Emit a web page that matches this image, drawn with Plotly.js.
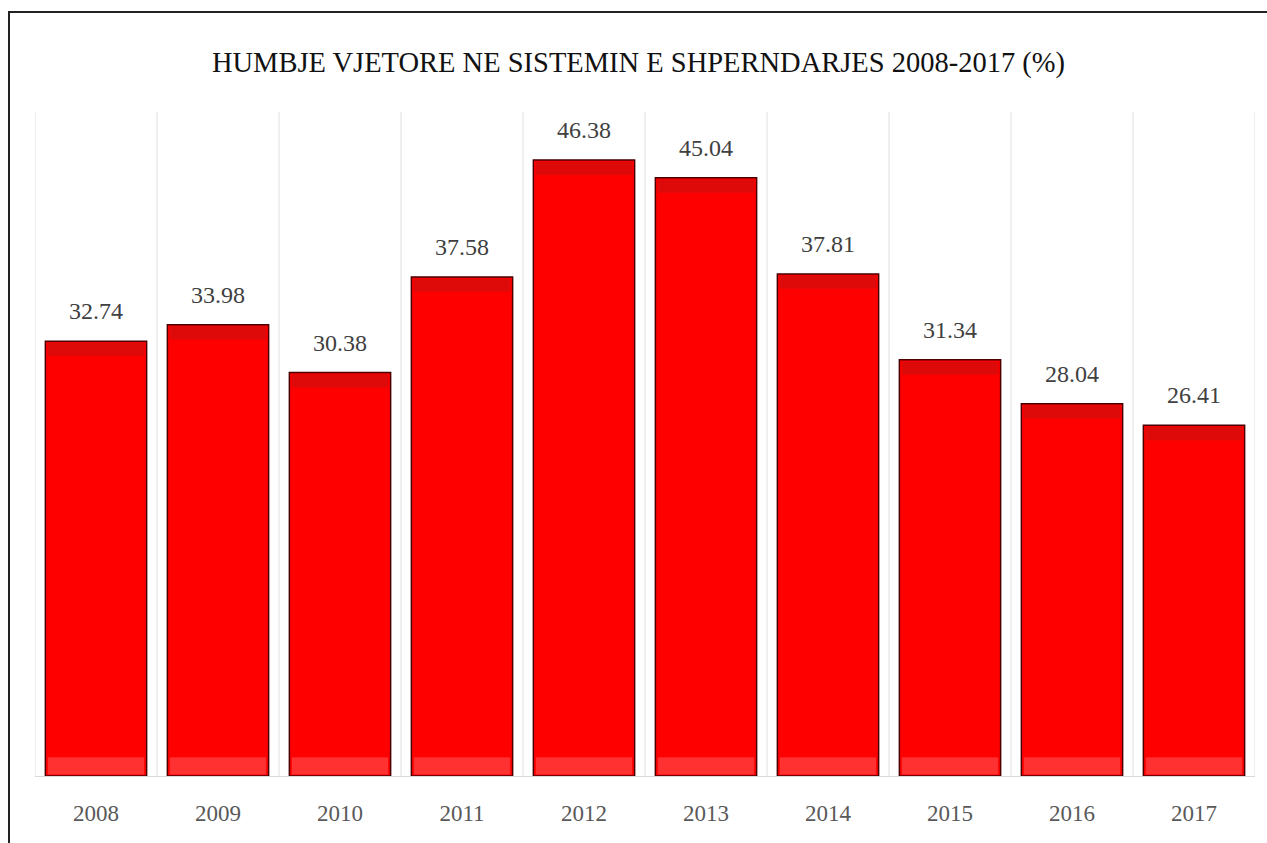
<!DOCTYPE html>
<html>
<head>
<meta charset="utf-8">
<script src="https://cdn.plot.ly/plotly-3.0.1.min.js"></script>
<style>
  html, body { margin: 0; padding: 0; background: #fff; overflow: hidden; }
  #frame { position: absolute; left: 8px; top: 11px; width: 1300px; height: 900px;
           border-left: 2px solid #222; border-top: 2px solid #222; }
  #chart { position: absolute; left: 10px; top: 13px; width: 1257px; height: 830px; }
</style>
</head>
<body>
<div id="frame"></div>
<div id="chart"></div>
<script>
const years = ['2008','2009','2010','2011','2012','2013','2014','2015','2016','2017'];
const losses = [32.74, 33.98, 30.38, 37.58, 46.38, 45.04, 37.81, 31.34, 28.04, 26.41];
const titleText = 'HUMBJE VJETORE NE SISTEMIN E SHPERNDARJES 2008-2017 (%)';

const serif = 'Liberation Serif, Times New Roman, Times, serif';
const barW = 0.83;
const bevel = 1.0;

const main = {
  type: 'bar', x: years, y: losses, width: barW,
  marker: { color: '#ff0000', line: { color: '#4a0000', width: 1.5 } },
  hoverinfo: 'x+y', showlegend: false
};
const topBand = {
  type: 'bar', x: years, y: losses.map(() => bevel), base: losses.map(v => v - bevel - 0.12),
  width: barW - 0.04,
  marker: { color: 'rgba(160,30,30,0.35)', line: { width: 0 } },
  hoverinfo: 'skip', showlegend: false
};
const bottomBand = {
  type: 'bar', x: years, y: losses.map(() => bevel + 0.3), base: losses.map(() => 0.12),
  width: barW - 0.04,
  marker: { color: 'rgba(255,90,90,0.55)', line: { width: 0 } },
  hoverinfo: 'skip', showlegend: false
};

const layout = {
  width: 1257, height: 830,
  margin: { l: 25, r: 12, t: 99, b: 67 },
  paper_bgcolor: '#fff', plot_bgcolor: '#fff',
  barmode: 'overlay',
  font: { family: serif },
  title: { text: titleText, font: { family: serif, size: 28.5, color: '#111' },
           x: 0.5, xanchor: 'center', y: 1 - (62 - 13) / 830, yanchor: 'middle', yref: 'container' },
  xaxis: {
    type: 'category', showgrid: false, ticks: '', showline: true, linecolor: '#d9d9d9', linewidth: 1,
    tickfont: { family: serif, size: 23, color: '#595959' }, ticklabelstandoff: 16,
    range: [-0.5, years.length - 0.5]
  },
  yaxis: { range: [0, 50], visible: false, showgrid: false },
  annotations: years.map((yr, i) => ({
    x: i, y: losses[i], xref: 'x', yref: 'y', text: losses[i].toFixed(2),
    showarrow: false, yanchor: 'bottom', yshift: 15,
    font: { family: serif, size: 24, color: '#404040' }
  })),
  shapes: years.map((y, i) => ({
    type: 'line', xref: 'x', yref: 'paper', x0: i - 0.5, x1: i - 0.5, y0: 0, y1: 1,
    line: { color: '#e0e0e0', width: 1 }, layer: 'below'
  })).concat([{
    type: 'line', xref: 'x', yref: 'paper', x0: years.length - 0.5, x1: years.length - 0.5, y0: 0, y1: 1,
    line: { color: '#e0e0e0', width: 1 }, layer: 'below'
  }])
};

Plotly.newPlot('chart', [main, topBand, bottomBand], layout, { displayModeBar: false, staticPlot: true });
</script>
</body>
</html>
